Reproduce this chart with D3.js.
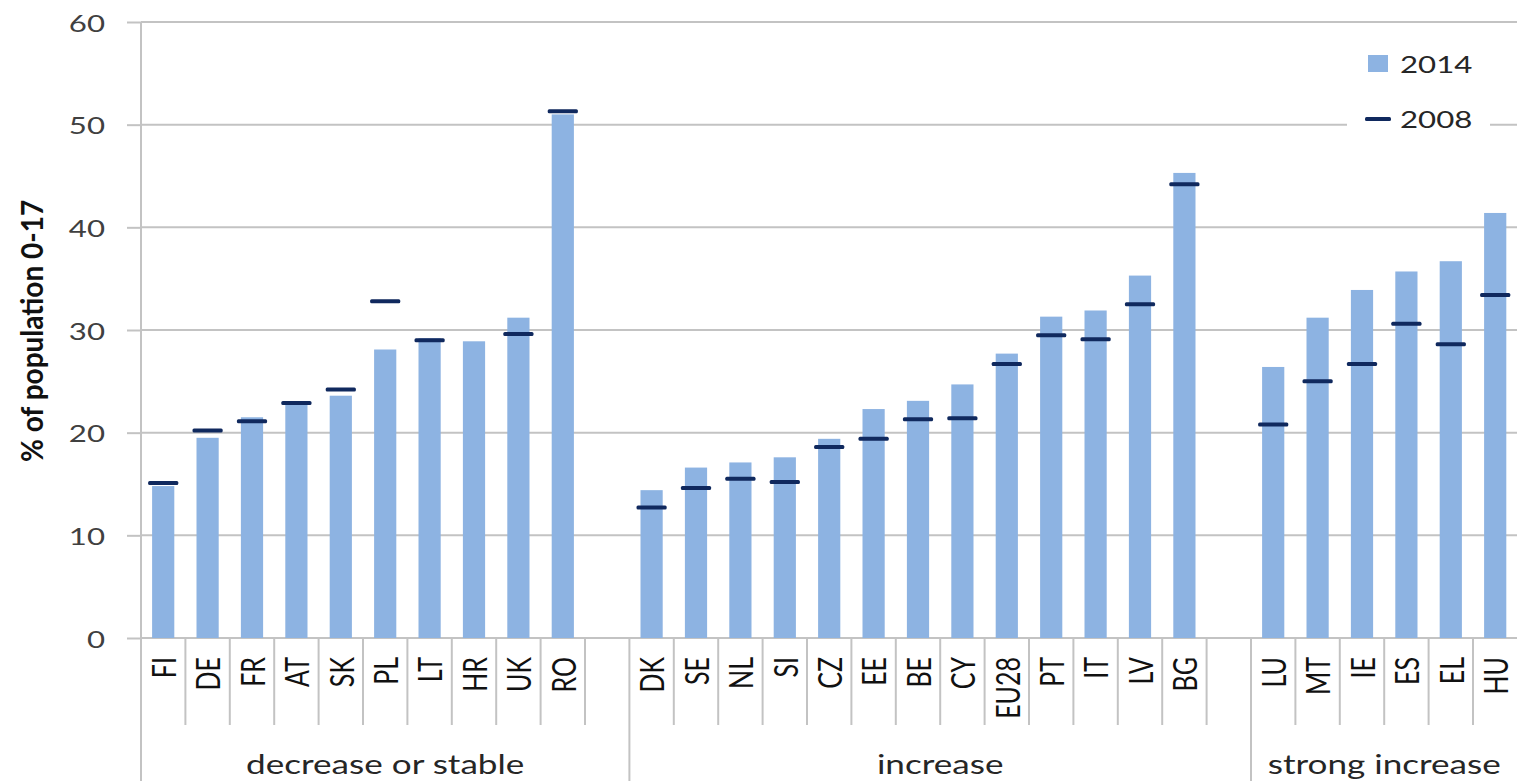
<!DOCTYPE html>
<html>
<head>
<meta charset="utf-8">
<script src="https://cdn.jsdelivr.net/npm/d3@7/dist/d3.min.js"></script>
<style>
  html, body { margin: 0; padding: 0; background: #fff; overflow: hidden; }
  svg { display: block; }
  text { font-family: Lato, "Open Sans", sans-serif; }
</style>
</head>
<body>
<svg id="chart" width="1517" height="781"></svg>
<script>
// data
var groups = ["decrease or stable", "increase", "strong increase"];
var catsDecrease = ["FI", "DE", "FR", "AT", "SK", "PL", "LT", "HR", "UK", "RO"];
var catsIncrease = ["DK", "SE", "NL", "SI", "CZ", "EE", "BE", "CY", "EU28", "PT", "IT", "LV", "BG"];
var catsStrong = ["LU", "MT", "IE", "ES", "EL", "HU"];

var val2014Decrease = [14.8, 19.5, 21.5, 22.7, 23.6, 28.1, 29.2, 28.9, 31.2, 51.0];
var val2008Decrease = [15.1, 20.2, 21.1, 22.9, 24.2, 32.8, 29.0, null, 29.6, 51.3];
var val2014Increase = [14.4, 16.6, 17.1, 17.6, 19.4, 22.3, 23.1, 24.7, 27.7, 31.3, 31.9, 35.3, 45.3];
var val2008Increase = [12.7, 14.6, 15.5, 15.2, 18.6, 19.4, 21.3, 21.4, 26.7, 29.5, 29.1, 32.5, 44.2];
var val2014Strong = [26.4, 31.2, 33.9, 35.7, 36.7, 41.4];
var val2008Strong = [20.8, 25.0, 26.7, 30.6, 28.6, 33.4];

var seriesNames = ["2014", "2008"];
var yTicks = [0, 10, 20, 30, 40, 50, 60];
var yLabel = "% of population 0-17";

// build the slot list (each group followed by one empty slot, except the last)
var groupCats = [catsDecrease, catsIncrease, catsStrong];
var group2014 = [val2014Decrease, val2014Increase, val2014Strong];
var group2008 = [val2008Decrease, val2008Increase, val2008Strong];
var slots = [];
groupCats.forEach(function(cats, gi){
  cats.forEach(function(c, i){
    slots.push({key: c, name: c, group: gi, v2014: group2014[gi][i], v2008: group2008[gi][i]});
  });
  if(gi < groupCats.length - 1){
    slots.push({key: "_gap" + gi, name: null, group: gi});
  }
});

var W = 1517, H = 781;
var plotLeft = 141, plotRight = 1517.4, plotTop = 22, plotBottom = 638;
var sx = 1.3; // the picture is stretched sideways

var svg = d3.select("#chart");

var x = d3.scaleBand()
  .domain(slots.map(function(d){ return d.key; }))
  .range([plotLeft, plotRight])
  .padding(0);

var y = d3.scaleLinear().domain([0, 60]).range([plotBottom, plotTop]);

var gridColor = "#c3c3c3";

// gridlines
svg.append("g").selectAll("line")
  .data(yTicks)
  .join("line")
  .attr("x1", plotLeft)
  .attr("x2", W)
  .attr("y1", function(d){ return y(d); })
  .attr("y2", function(d){ return y(d); })
  .attr("stroke", gridColor)
  .attr("stroke-width", 2);

// y axis with tick marks
var yAxis = svg.append("g")
  .attr("transform", "translate(" + plotLeft + ",0)")
  .call(d3.axisLeft(y).tickValues(yTicks).tickSize(14).tickFormat(d3.format("d")));
yAxis.select(".domain").remove();
yAxis.selectAll(".tick line").attr("stroke", gridColor).attr("stroke-width", 2);
yAxis.selectAll(".tick text")
  .attr("x", null)
  .attr("dy", null)
  .attr("text-anchor", "end")
  .attr("dominant-baseline", "central")
  .attr("transform", "translate(-36,0) scale(" + sx + ",1)")
  .attr("font-size", 24)
  .attr("font-family", "Lato, 'Open Sans', sans-serif")
  .attr("fill", "#404040");

// vertical axis line, running down through the label area
svg.append("line")
  .attr("x1", plotLeft).attr("x2", plotLeft)
  .attr("y1", plotTop).attr("y2", H)
  .attr("stroke", gridColor).attr("stroke-width", 2);

// separators between categories
var seps = slots.map(function(d, i){ return i; }).filter(function(i){ return i > 0; });
svg.append("g").selectAll("line")
  .data(seps)
  .join("line")
  .attr("x1", function(i){ return x(slots[i].key); })
  .attr("x2", function(i){ return x(slots[i].key); })
  .attr("y1", plotBottom)
  .attr("y2", function(i){ return slots[i].group !== slots[i-1].group ? H : 725; })
  .attr("stroke", gridColor)
  .attr("stroke-width", 2);

// bars 2014
var bw = x.bandwidth();
svg.append("g").selectAll("rect")
  .data(slots.filter(function(d){ return d.name; }))
  .join("rect")
  .attr("x", function(d){ return x(d.key) + bw * 0.25; })
  .attr("width", bw * 0.5)
  .attr("y", function(d){ return y(d.v2014); })
  .attr("height", function(d){ return y(0) - y(d.v2014); })
  .attr("fill", "#8db3e2");

// markers 2008
svg.append("g").selectAll("rect")
  .data(slots.filter(function(d){ return d.name && d.v2008 != null; }))
  .join("rect")
  .attr("x", function(d){ return x(d.key) + bw * 0.16; })
  .attr("width", bw * 0.68)
  .attr("y", function(d){ return y(d.v2008) - 2; })
  .attr("height", 4)
  .attr("rx", 1.5)
  .attr("fill", "#10295e");

// country labels
svg.append("g").selectAll("text")
  .data(slots.filter(function(d){ return d.name; }))
  .join("text")
  .attr("transform", function(d){
    return "translate(" + (x(d.key) + bw / 2) + ",657) scale(" + sx + ",1) rotate(-90)";
  })
  .attr("text-anchor", "end")
  .attr("dominant-baseline", "central")
  .attr("font-size", 25)
  .attr("fill", "#111")
  .text(function(d){ return d.name; });

// group labels
svg.append("g").selectAll("text")
  .data(groups)
  .join("text")
  .attr("transform", function(g, gi){
    var inGroup = slots.filter(function(d){ return d.group === gi; });
    var x1 = x(inGroup[0].key);
    var x2 = x(inGroup[inGroup.length - 1].key) + bw;
    return "translate(" + ((x1 + x2) / 2) + ",774) scale(1.35,1)";
  })
  .attr("text-anchor", "middle")
  .attr("font-size", 26)
  .attr("fill", "#262626")
  .text(function(g){ return g; });

// y axis title
svg.append("text")
  .attr("transform", "translate(31,331) scale(1.1,1) rotate(-90)")
  .attr("text-anchor", "middle")
  .attr("dominant-baseline", "central")
  .attr("font-size", 28)
  .attr("font-weight", "bold")
  .attr("fill", "#111")
  .text(yLabel);

// legend
var legend = svg.append("g");
legend.append("rect")
  .attr("x", 1347).attr("y", 36).attr("width", 143).attr("height", 104)
  .attr("fill", "#fff");
legend.append("rect")
  .attr("x", 1368).attr("y", 55).attr("width", 20).attr("height", 17)
  .attr("fill", "#8db3e2");
legend.append("rect")
  .attr("x", 1365).attr("y", 117).attr("width", 26).attr("height", 4)
  .attr("rx", 1.5)
  .attr("fill", "#10295e");
legend.selectAll("text")
  .data(seriesNames)
  .join("text")
  .attr("transform", function(d, i){ return "translate(1400," + (73 + i * 55) + ") scale(" + sx + ",1)"; })
  .attr("font-size", 24)
  .attr("fill", "#262626")
  .text(function(d){ return d; });
</script>
</body>
</html>
